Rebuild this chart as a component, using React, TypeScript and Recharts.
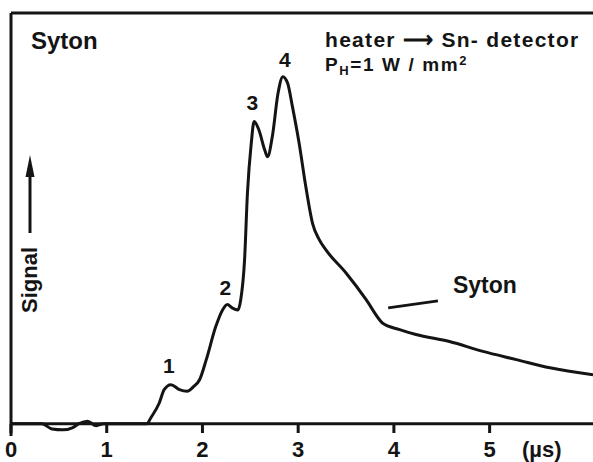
import React from "react";
import {
  LineChart,
  Line,
  XAxis,
  YAxis,
  ReferenceLine,
  ReferenceDot,
} from "recharts";

// signal trace (time in µs, signal in arbitrary units)
const timeUs = [
  0, 0.15, 0.32, 0.43, 0.54, 0.64, 0.71, 0.8, 0.89, 0.97, 1.2, 1.42, 1.46,
  1.55, 1.6, 1.67, 1.76, 1.84, 1.91, 1.97, 2.04, 2.14, 2.21, 2.26, 2.31, 2.37,
  2.4, 2.44, 2.47, 2.51, 2.54, 2.59, 2.65, 2.68, 2.73, 2.79, 2.84, 2.89, 2.94,
  3.01, 3.08, 3.15, 3.22, 3.29, 3.5, 3.71, 3.85, 3.88, 4.06, 4.23, 4.58, 4.93,
  5.28, 5.63, 6.08,
];
const signal = [
  0, 0, 0, -1.3, -1.5, -1.0, 0, 0.6, -0.5, 0, 0, 0, 1.4, 5.1, 8.3, 9.5, 8.3,
  7.9, 9.1, 10.7, 15.6, 23.7, 27.7, 29, 28.2, 27.7, 30.2, 39.9, 56.1, 68.3,
  73.6, 71.5, 66.7, 65, 69.9, 80.5, 84.5, 82.9, 77.2, 68.3, 57.7, 48.8, 44.8,
  42.3, 36.7, 30.2, 25.3, 24.5, 22.9, 21.7, 20.0, 17.6, 15.6, 13.6, 11.9,
];

const xTicks = [0, 1, 2, 3, 4, 5];

// peak numbers and the curve name, placed in data units
const peakText = ["1", "2", "3", "4", "Syton"];
const peakX = [1.65, 2.24, 2.52, 2.86, 4.95];
const peakY = [14.1, 33.1, 78.1, 88.6, 33.8];

// short leader line to the "Syton" label
const leader = [
  { x: 3.94, y: 28.2 },
  { x: 4.46, y: 29.9 },
];

const data = timeUs.map((t, i) => ({ t, s: signal[i] }));

const INK = "#141414";
const FONT = "'Liberation Sans', Arial, sans-serif";

const XTick = (props: any) => {
  const { x, y, payload } = props;
  return (
    <g>
      <line x1={x} x2={x} y1={y - 12} y2={y - 3} stroke={INK} strokeWidth={3} />
      <text
        x={x}
        y={y + 21}
        textAnchor="middle"
        fill={INK}
        fontFamily={FONT}
        fontWeight="bold"
        fontSize={22}
      >
        {payload.value}
      </text>
    </g>
  );
};

const textStyle: React.CSSProperties = {
  position: "absolute",
  fontFamily: FONT,
  fontWeight: "bold",
  color: INK,
  lineHeight: 1,
  whiteSpace: "nowrap",
};

const small: React.CSSProperties = {
  fontSize: 13,
  position: "relative",
  lineHeight: 0,
};

export default function App() {
  return (
    <div
      style={{
        position: "absolute",
        left: 0,
        top: 0,
        width: 593,
        height: 462,
        background: "#fff",
        overflow: "hidden",
      }}
    >
      <LineChart
        width={593}
        height={462}
        data={data}
        margin={{ top: 13, right: 0, left: 11, bottom: 0 }}
      >
        <XAxis
          dataKey="t"
          type="number"
          domain={[0, 6.08]}
          ticks={xTicks}
          axisLine={false}
          tickLine={false}
          tickSize={0}
          tickMargin={0}
          height={26}
          tick={<XTick />}
          interval={0}
        />
        <YAxis type="number" domain={[-3, 100]} width={0} hide />
        <ReferenceLine x={0} stroke={INK} strokeWidth={3} />
        <ReferenceLine y={0} stroke={INK} strokeWidth={3} />
        <ReferenceLine y={100} stroke={INK} strokeWidth={3} />
        <ReferenceLine segment={leader} stroke={INK} strokeWidth={3} />
        <Line
          type="monotone"
          dataKey="s"
          stroke={INK}
          strokeWidth={3}
          dot={false}
          isAnimationActive={false}
        />
        {peakText.map((txt, i) => (
          <ReferenceDot
            key={txt}
            x={peakX[i]}
            y={peakY[i]}
            r={1}
            fill="none"
            stroke="none"
            label={{
              value: txt,
              position: "center",
              fill: INK,
              fontFamily: FONT,
              fontWeight: "bold",
              fontSize: i === 4 ? 23 : 21,
            }}
          />
        ))}
      </LineChart>

      <div style={{ ...textStyle, left: 31, top: 29, fontSize: 24 }}>Syton</div>
      <div
        style={{ ...textStyle, left: 325, top: 29, fontSize: 21, letterSpacing: 1.3 }}
      >
        heater ⟶ Sn- detector
      </div>
      <div
        style={{ ...textStyle, left: 325, top: 55, fontSize: 19, letterSpacing: 1.6 }}
      >
        P<span style={{ ...small, top: 4 }}>H</span>=1 W / mm
        <span style={{ ...small, top: -6 }}>2</span>
      </div>
      <div
        style={{
          ...textStyle,
          left: 30,
          top: 280,
          fontSize: 22,
          transform: "translate(-50%, -50%) rotate(-90deg)",
        }}
      >
        Signal
      </div>
      <svg
        width={60}
        height={250}
        style={{ position: "absolute", left: 0, top: 0, pointerEvents: "none" }}
      >
        <line x1={30} x2={30} y1={233} y2={172} stroke={INK} strokeWidth={3} />
        <path d="M25.5 177 L30 155 L34.5 177 Z" fill={INK} />
      </svg>
      <div style={{ ...textStyle, left: 522, top: 439, fontSize: 22 }}>(µs)</div>
    </div>
  );
}
